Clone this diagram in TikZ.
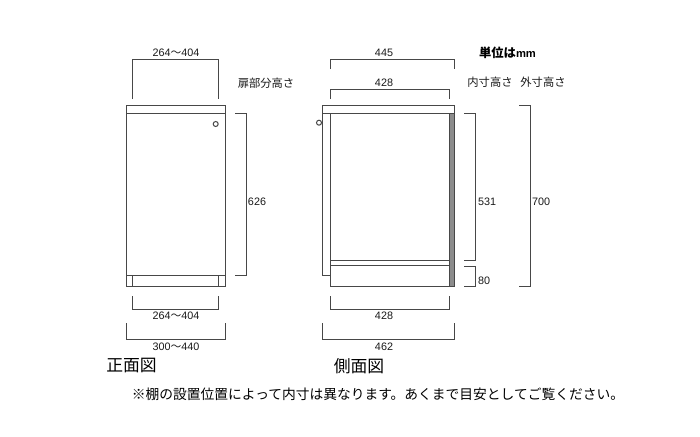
\documentclass[tikz,border=0pt]{standalone}
\usepackage{fontspec}
\setmainfont{Liberation Sans}
\newfontfamily\jpfont{Noto Sans CJK JP}
\tikzset{
  ln/.style={draw=black!72,line width=1.45pt},
  dimtext/.style={inner sep=0pt,font=\fontsize{10.8}{12}\selectfont,text=black!90},
  jptext/.style={inner sep=0pt,font=\jpfont\fontsize{11.3}{13}\selectfont,text=black!90},
  titletext/.style={inner sep=0pt,font=\jpfont\fontsize{16.8}{19}\selectfont,text=black},
  notetext/.style={inner sep=0pt,font=\jpfont\fontsize{13.75}{16}\selectfont,text=black},
}
\newcommand{\wv}{{\jpfont ～}}
\begin{document}
\begin{tikzpicture}[x=1pt,y=-1pt]
\useasboundingbox[fill=white] (0,0) rectangle (700,436);
% front view
\draw[ln] (126.5,105.5) rectangle (225.5,286.5);
\draw[ln] (126.5,113.5) -- (225.5,113.5);
\draw[ln] (126.5,275.5) -- (225.5,275.5);
\draw[ln] (132.5,275.5) -- (132.5,286.5);
\draw[ln] (218.5,275.5) -- (218.5,286.5);
\draw[ln,line width=1pt] (215.7,124) circle (2.5);
% front dims
\draw[ln] (132.5,99) -- (132.5,59.5) -- (218.5,59.5) -- (218.5,99);
\draw[ln] (132.5,296) -- (132.5,309.5) -- (218.5,309.5) -- (218.5,296);
\draw[ln] (126.5,323) -- (126.5,339.5) -- (225.5,339.5) -- (225.5,323);
\draw[ln] (235,113.5) -- (246.5,113.5) -- (246.5,275.5) -- (235,275.5);
% side view
\fill[black!45] (449,113.5) rectangle (454.5,286.5);
\draw[ln] (322.5,105.5) rectangle (454.5,113.5);
\draw[ln] (322.5,113.5) -- (322.5,275.5) -- (330.5,275.5);
\draw[ln] (330.5,113.5) -- (330.5,286.5) -- (454.5,286.5) -- (454.5,113.5);
\draw[ln] (449.5,113.5) -- (449.5,286.5);
\draw[ln] (330.5,260.5) -- (449.5,260.5);
\draw[ln] (330.5,265.5) -- (449.5,265.5);
\draw[ln,line width=1pt,fill=white] (319,122.7) circle (2.5);
% side dims
\draw[ln] (330.5,69) -- (330.5,59.5) -- (454.5,59.5) -- (454.5,69);
\draw[ln] (330.5,99) -- (330.5,89.5) -- (449.5,89.5) -- (449.5,99);
\draw[ln] (330.5,296) -- (330.5,309.5) -- (449.5,309.5) -- (449.5,296);
\draw[ln] (322.5,323) -- (322.5,339.5) -- (454.5,339.5) -- (454.5,323);
\draw[ln] (464,113.5) -- (475.5,113.5) -- (475.5,260.5) -- (464,260.5);
\draw[ln] (464,266.5) -- (475.5,266.5) -- (475.5,286.5) -- (464,286.5);
\draw[ln] (519,105.5) -- (530.5,105.5) -- (530.5,286.5) -- (519,286.5);
% labels
\node[dimtext] (t1) at (176,53) {264\wv404};
\node[dimtext] (t2) at (176,316) {264\wv404};
\node[dimtext] (t3) at (176,346.5) {300\wv440};
\node[dimtext] (t4) at (257,201.5) {626};
\node[jptext] (t5) at (266,83) {扉部分高さ};
\node[titletext] (t6) at (131.5,366) {正面図};
\node[dimtext] (t7) at (384,53) {445};
\node[dimtext] (t8) at (384,83) {428};
\node[dimtext] (t9) at (384,316) {428};
\node[dimtext] (t10) at (384,346.5) {462};
\node[dimtext] (t11) at (487,202) {531};
\node[dimtext] (t12) at (541,202) {700};
\node[dimtext] (t13) at (484,281) {80};
\node[inner sep=0pt,font=\fontsize{11.2}{12}\selectfont\bfseries] (t14) at (507.5,53) {{\jpfont\bfseries\fontsize{12.3}{14}\selectfont 単位は}mm};
\node[jptext] (t15) at (490,82) {内寸高さ};
\node[jptext] (t16) at (543,82) {外寸高さ};
\node[titletext] (t17) at (359,366) {側面図};
\node[notetext] (t18) at (378,394) {※棚の設置位置によって内寸は異なります。あくまで目安としてご覧ください。};
\end{tikzpicture}
\end{document}
